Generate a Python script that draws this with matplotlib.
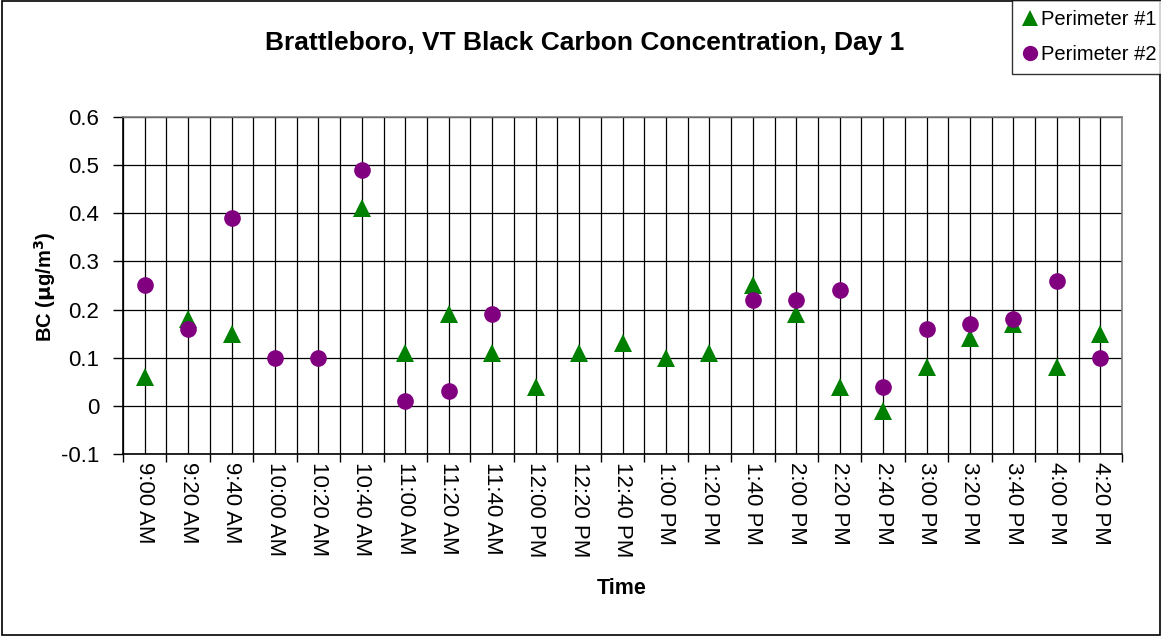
import matplotlib
matplotlib.use("Agg")
import matplotlib.pyplot as plt
import numpy as np
from matplotlib.lines import Line2D
from matplotlib.patches import Rectangle

plt.rcParams['font.family'] = ['Liberation Sans', 'DejaVu Sans']

times = ["9:00 AM", "9:20 AM", "9:40 AM", "10:00 AM", "10:20 AM", "10:40 AM",
         "11:00 AM", "11:20 AM", "11:40 AM", "12:00 PM", "12:20 PM", "12:40 PM",
         "1:00 PM", "1:20 PM", "1:40 PM", "2:00 PM", "2:20 PM", "2:40 PM",
         "3:00 PM", "3:20 PM", "3:40 PM", "4:00 PM", "4:20 PM"]
perimeter1 = [0.06, 0.18, 0.15, None, None, 0.41, 0.11, 0.19, 0.11, 0.04, 0.11, 0.13,
              0.10, 0.11, 0.25, 0.19, 0.04, -0.01, 0.08, 0.14, 0.17, 0.08, 0.15]
perimeter2 = [0.25, 0.16, 0.39, 0.10, 0.10, 0.49, 0.01, 0.03, 0.19, None, None, None,
              None, None, 0.22, 0.22, 0.24, 0.04, 0.16, 0.17, 0.18, 0.26, 0.10]

p1 = np.array([np.nan if v is None else v for v in perimeter1], dtype=float)
p2 = np.array([np.nan if v is None else v for v in perimeter2], dtype=float)
x = np.arange(len(times))

fig = plt.figure(figsize=(11.61, 6.36), dpi=100)
ax = fig.add_axes([123/1161, 1-454/636, (1122-123)/1161, (454-117)/636])

# gridlines at every half category
for gx in np.arange(-0.5, len(times), 0.5):
    ax.axvline(gx, color='black', lw=0.9, zorder=1)
for gy in np.arange(-0.1, 0.61, 0.1):
    ax.axhline(gy, color='black', lw=0.9, zorder=1)

ax.plot(x, p1, linestyle='none', marker='^', color='#008000', markersize=12.5,
        markeredgewidth=0, zorder=3, label='Perimeter #1')
ax.plot(x, p2, linestyle='none', marker='o', color='#800080', markersize=12,
        markeredgewidth=0, zorder=4, label='Perimeter #2')

ax.set_xlim(-0.5, len(times)-0.5)
ax.set_ylim(-0.1, 0.6)
ax.set_yticks(np.round(np.arange(-0.1, 0.61, 0.1), 1))
ax.set_yticklabels(['-0.1', '0', '0.1', '0.2', '0.3', '0.4', '0.5', '0.6'], fontsize=16)
ax.set_xticks(x)
ax.set_xticklabels(times, rotation=-90, fontsize=16)
ax.tick_params(axis='x', length=0, pad=6)
ax.set_xticks(np.arange(-0.5, len(times), 1), minor=True)
ax.tick_params(axis='x', which='minor', length=6, width=1, color='black')
ax.tick_params(axis='y', length=7, width=1, color='black', pad=10)

for s in ['top', 'right']:
    ax.spines[s].set_color('#808080')
    ax.spines[s].set_linewidth(1.2)
for s in ['left', 'bottom']:
    ax.spines[s].set_color('black')
    ax.spines[s].set_linewidth(1.2)

fig.text(585/1161, 1-43/636, 'Brattleboro, VT Black Carbon Concentration, Day 1',
         ha='center', va='center', fontsize=19, fontweight='bold')
fig.text(45/1161, 1-287/636, r'BC ($\mathbf{\mu}$g/m$^{\mathbf{3}}$)', rotation=90,
         ha='center', va='center', fontsize=14.5, fontweight='bold')
fig.text(622/1161, 1-588/636, 'Time', ha='center', va='center', fontsize=15.5,
         fontweight='bold')

# figure border
fig.patches.append(Rectangle((2/1161, 1/636), 1-3/1161, 1-2/636, transform=fig.transFigure,
                             fill=False, edgecolor='black', lw=1.2))

handles = [Line2D([], [], linestyle='none', marker='^', color='#008000', markersize=12,
                  markeredgewidth=0),
           Line2D([], [], linestyle='none', marker='o', color='#800080', markersize=11,
                  markeredgewidth=0)]
leg = fig.legend(handles, ['Perimeter #1', 'Perimeter #2'], loc='upper left',
                 bbox_to_anchor=(1012/1161, 1.0), fontsize=14.5, frameon=True,
                 fancybox=False, edgecolor='black', handlelength=0.8, handletextpad=0.15,
                 borderpad=0.5, labelspacing=0.8, borderaxespad=0)
leg.get_frame().set_linewidth(1.0)

fig.savefig('out.png', dpi=100)
